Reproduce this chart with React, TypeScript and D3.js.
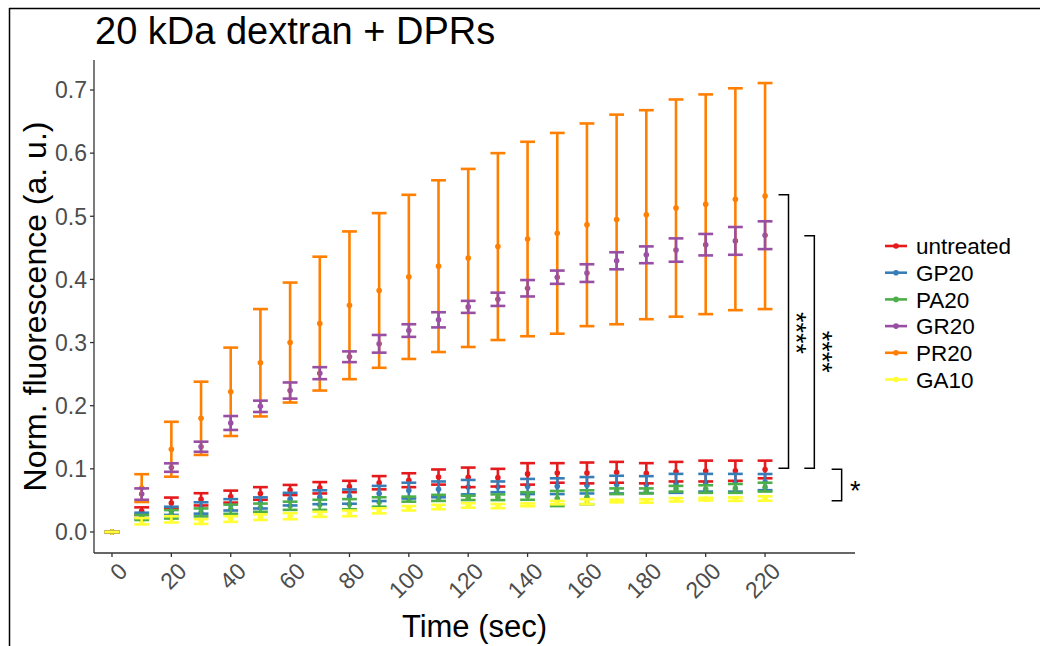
import * as d3 from "d3";

// time points (sec)
const TIME = [0, 10, 20, 30, 40, 50, 60, 70, 80, 90, 100, 110, 120, 130, 140, 150, 160, 170, 180, 190, 200, 210, 220];

// means and error half-widths
const UNTREATED_MEAN = [0, 0.033, 0.046, 0.0517, 0.056, 0.061, 0.0665, 0.07, 0.072, 0.078, 0.082, 0.087, 0.0865, 0.086, 0.092, 0.0935, 0.0935, 0.0945, 0.093, 0.0955, 0.0965, 0.097, 0.099];
const UNTREATED_ERR = [0, 0.006, 0.0085, 0.0097, 0.0095, 0.01, 0.008, 0.009, 0.009, 0.0105, 0.011, 0.012, 0.0155, 0.014, 0.017, 0.0155, 0.0165, 0.0165, 0.016, 0.0155, 0.0165, 0.016, 0.014];

const GP20_MEAN = [0, 0.026, 0.0335, 0.038, 0.043, 0.046, 0.052, 0.055, 0.056, 0.061, 0.0655, 0.0675, 0.071, 0.0715, 0.072, 0.0725, 0.074, 0.075, 0.075, 0.077, 0.078, 0.078, 0.079];
const GP20_ERR = [0, 0.0045, 0.0065, 0.009, 0.009, 0.0088, 0.01, 0.011, 0.0113, 0.012, 0.0125, 0.0125, 0.0114, 0.0085, 0.012, 0.0125, 0.013, 0.014, 0.0134, 0.015, 0.014, 0.014, 0.0128];

const PA20_MEAN = [0, 0.023, 0.028, 0.031, 0.036, 0.0385, 0.0415, 0.043, 0.044, 0.0475, 0.052, 0.054, 0.054, 0.055, 0.057, 0.053, 0.055, 0.0645, 0.065, 0.0685, 0.068, 0.069, 0.071];
const PA20_ERR = [0, 0.004, 0.0067, 0.0063, 0.0073, 0.0065, 0.0065, 0.008, 0.008, 0.0075, 0.004, 0.0048, 0.0034, 0.0045, 0.006, 0.012, 0.011, 0.0045, 0.004, 0.0045, 0.006, 0.007, 0.007];

const GR20_MEAN = [0, 0.06, 0.102, 0.135, 0.1726, 0.199, 0.224, 0.2515, 0.2775, 0.298, 0.319, 0.336, 0.3565, 0.3685, 0.386, 0.4035, 0.41, 0.4295, 0.439, 0.4465, 0.455, 0.461, 0.47];
const GR20_ERR = [0, 0.009, 0.0067, 0.008, 0.011, 0.009, 0.0128, 0.0095, 0.0085, 0.014, 0.01, 0.012, 0.0095, 0.0105, 0.013, 0.0105, 0.014, 0.0135, 0.0133, 0.0185, 0.017, 0.022, 0.022];

const PR20_MEAN = [0, 0.0695, 0.131, 0.18, 0.222, 0.268, 0.3, 0.33, 0.359, 0.3825, 0.404, 0.421, 0.434, 0.452, 0.464, 0.473, 0.4865, 0.495, 0.5025, 0.513, 0.519, 0.527, 0.532];
const PR20_ERR = [0, 0.022, 0.0435, 0.058, 0.07, 0.085, 0.095, 0.106, 0.117, 0.1225, 0.13, 0.136, 0.141, 0.148, 0.154, 0.159, 0.1605, 0.166, 0.1655, 0.172, 0.174, 0.1757, 0.179];

const GA10_MEAN = [0, 0.017, 0.02, 0.0165, 0.0205, 0.0235, 0.025, 0.028, 0.0295, 0.0335, 0.0375, 0.0395, 0.042, 0.041, 0.043, 0.0465, 0.048, 0.049, 0.049, 0.051, 0.052, 0.052, 0.053];
const GA10_ERR = [0, 0.005, 0.005, 0.0037, 0.0045, 0.0045, 0.0048, 0.004, 0.0045, 0.004, 0.0035, 0.0035, 0.0035, 0.0033, 0.0022, 0.0027, 0.004, 0.002, 0.0027, 0.0027, 0.002, 0.0027, 0.0035];

const GROUPS = ["untreated", "GP20", "PA20", "GR20", "PR20", "GA10"];
const COLORS = ["#E41A1C", "#377EB8", "#4DAF4A", "#984EA3", "#FF7F00", "#FFFF33"];

const X_TICKS = [0, 20, 40, 60, 80, 100, 120, 140, 160, 180, 200, 220];
const Y_TICKS = [0, 0.1, 0.2, 0.3, 0.4, 0.5, 0.6, 0.7];

// significance brackets
const BRACKETS = [
  { x: 227.9, top: 0.534, bottom: 0.101, lx: 230.7, ly: 0.315, label: "****", rot: true },
  { x: 236.6, top: 0.469, bottom: 0.101, lx: 239.5, ly: 0.2855, label: "****", rot: true },
  { x: 245.8, top: 0.0993, bottom: 0.0496, lx: 248.6, ly: 0.0744, label: "*", rot: false },
];

const FONT = "'Liberation Sans', Arial, Helvetica, sans-serif";
const W = 1040;
const H = 646;
const PANEL = { left: 94, right: 855, top: 60, bottom: 553 };

export default function App() {
  const x = d3.scaleLinear().domain([-6.06, 250.3]).range([PANEL.left, PANEL.right]);
  const y = d3.scaleLinear().domain([-0.0333, 0.7475]).range([PANEL.bottom, PANEL.top]);

  const series = [
    { name: "untreated", mean: UNTREATED_MEAN, err: UNTREATED_ERR },
    { name: "GP20", mean: GP20_MEAN, err: GP20_ERR },
    { name: "PA20", mean: PA20_MEAN, err: PA20_ERR },
    { name: "GR20", mean: GR20_MEAN, err: GR20_ERR },
    { name: "PR20", mean: PR20_MEAN, err: PR20_ERR },
    { name: "GA10", mean: GA10_MEAN, err: GA10_ERR },
  ];
  const color = (name: string) => COLORS[GROUPS.indexOf(name)];

  // error bar layer order (purple drawn over orange)
  const barOrder = ["untreated", "GP20", "PA20", "PR20", "GR20", "GA10"];
  const capHalf = 2.5; // seconds

  return (
    <svg width={W} height={H} style={{ position: "absolute", left: 0, top: 0, background: "#fff" }} fontFamily={FONT}>
      <rect x={0} y={0} width={W} height={H} fill="#fff" />
      {/* frame */}
      <line x1={9} x2={W} y1={8.5} y2={8.5} stroke="#000" strokeWidth={1.5} />
      <line x1={9.5} x2={9.5} y1={8} y2={H} stroke="#000" strokeWidth={1.5} />

      <text x={95} y={44} fontSize={38} fill="#000">20 kDa dextran + DPRs</text>

      {/* points */}
      <g>
        {series.map((s) =>
          TIME.map((t, i) => (
            <circle key={s.name + i} cx={x(t)} cy={y(s.mean[i])} r={2.8} fill={color(s.name)} />
          ))
        )}
      </g>

      {/* error bars */}
      <g strokeWidth={2.6} fill="none">
        {barOrder.map((name) => {
          const s = series.find((d) => d.name === name)!;
          return (
            <g key={name} stroke={color(name)}>
              {TIME.map((t, i) => {
                const lo = y(s.mean[i] - s.err[i]);
                const hi = y(s.mean[i] + s.err[i]);
                return (
                  <g key={i}>
                    <line x1={x(t)} x2={x(t)} y1={lo} y2={hi} />
                    <line x1={x(t - capHalf)} x2={x(t + capHalf)} y1={lo} y2={lo} />
                    <line x1={x(t - capHalf)} x2={x(t + capHalf)} y1={hi} y2={hi} />
                  </g>
                );
              })}
            </g>
          );
        })}
      </g>

      {/* brackets */}
      <g stroke="#000" strokeWidth={1.5} fill="none">
        {BRACKETS.map((b, i) => (
          <path
            key={i}
            d={`M${x(b.x) - 10},${y(b.top)}H${x(b.x)}V${y(b.bottom)}H${x(b.x) - 10}`}
          />
        ))}
      </g>
      {BRACKETS.map((b, i) =>
        b.rot ? (
          <text
            key={i}
            transform={`translate(${x(b.lx)},${y(b.ly)}) rotate(90)`}
            textAnchor="middle"
            dy="0.35em"
            fontSize={27}
            fill="#000"
          >
            {b.label}
          </text>
        ) : (
          <text key={i} x={x(b.lx)} y={y(b.ly)} dy="0.55em" fontSize={27} fill="#000">
            {b.label}
          </text>
        )
      )}

      {/* axes */}
      <g stroke="#333" strokeWidth={1.3}>
        <line x1={PANEL.left} x2={PANEL.left} y1={PANEL.top} y2={PANEL.bottom} />
        <line x1={PANEL.left} x2={PANEL.right} y1={PANEL.bottom} y2={PANEL.bottom} />
        {Y_TICKS.map((v) => (
          <line key={v} x1={PANEL.left - 4} x2={PANEL.left} y1={y(v)} y2={y(v)} />
        ))}
        {X_TICKS.map((v) => (
          <line key={v} x1={x(v)} x2={x(v)} y1={PANEL.bottom} y2={PANEL.bottom + 4} />
        ))}
      </g>
      <g fontSize={23} fill="#4d4d4d">
        {Y_TICKS.map((v) => (
          <text key={v} x={PANEL.left - 7} y={y(v)} dy="0.36em" textAnchor="end">
            {d3.format(".1f")(v)}
          </text>
        ))}
        {X_TICKS.map((v) => (
          <text
            key={v}
            transform={`translate(${x(v) + 5},${PANEL.bottom + 8}) rotate(-45)`}
            textAnchor="end"
            dy="0.72em"
          >
            {v}
          </text>
        ))}
      </g>

      <text x={(PANEL.left + PANEL.right) / 2} y={637} fontSize={31} textAnchor="middle" fill="#000">
        Time (sec)
      </text>
      <text
        transform={`translate(46,${(PANEL.top + PANEL.bottom) / 2}) rotate(-90)`}
        fontSize={32}
        textAnchor="middle"
        fill="#000"
      >
        Norm. fluorescence (a. u.)
      </text>

      {/* legend */}
      <g>
        {GROUPS.map((g, i) => {
          const ly = 246 + i * 26.7;
          return (
            <g key={g}>
              <line x1={885} x2={907} y1={ly} y2={ly} stroke={COLORS[i]} strokeWidth={2.6} />
              <circle cx={896} cy={ly} r={2.8} fill={COLORS[i]} />
              <text x={916} y={ly} dy="0.36em" fontSize={22.5} fill="#000">{g}</text>
            </g>
          );
        })}
      </g>
    </svg>
  );
}
